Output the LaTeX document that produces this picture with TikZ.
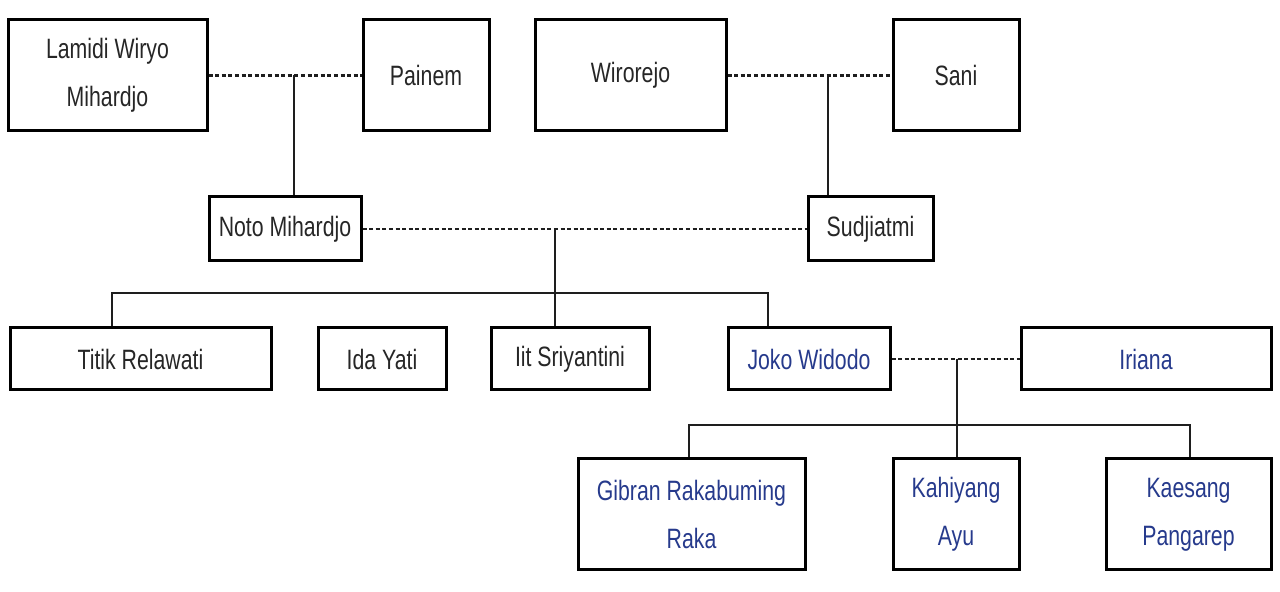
\documentclass[tikz,border=0pt]{standalone}
\usepackage{fontspec}
\setmainfont{Liberation Sans}[FakeStretch=0.76]
\usepackage{tikz}
\definecolor{namablue}{RGB}{38,58,140}
\definecolor{linegray}{RGB}{30,30,30}

\tikzset{
  box/.style 2 args={draw=black,line width=1.5pt,minimum width=#1*0.5pt,minimum height=#2*0.5pt,
    inner sep=0pt,align=center,font=\fontsize{14}{24}\selectfont,text=black!85},
  bluebox/.style 2 args={box={#1}{#2},text=namablue},
  marriage/.style={draw=linegray,line width=1.3pt,dash pattern=on 2pt off 1.3pt},
  line/.style={draw=linegray,line width=1pt}
}

\begin{document}
\begin{tikzpicture}[x=0.5pt,y=-0.5pt]
\useasboundingbox (0,0) rectangle (1280,592);

% generasi kakek nenek
\node[box={199}{111}] (lamidi) at (107.5,75.5) {Lamidi Wiryo\\Mihardjo};
\node[box={126}{111}] (painem) at (426,75.5) {Painem};
\node[box={191}{111}] (wirorejo) at (630.5,75.5) {Wirorejo};
\node[box={126}{111}] (sani) at (956,75.5) {Sani};

% orang tua
\node[box={152}{64}] (noto) at (285,229) {Noto Mihardjo};
\node[box={125}{64}] (sudjiatmi) at (870.5,229) {Sudjiatmi};

% anak
\node[box={261}{62}] (titik) at (140.5,359) {Titik Relawati};
\node[box={128}{62}] (ida) at (382,359) {Ida Yati};
\node[box={158}{62}] (iit) at (570,359) {Iit Sriyantini};
\node[bluebox={162}{62}] (joko) at (809,359) {Joko Widodo};
\node[bluebox={250}{62}] (iriana) at (1146,359) {Iriana};

% cucu
\node[bluebox={227}{111}] (gibran) at (691.5,514.5) {Gibran Rakabuming\\Raka};
\node[bluebox={126}{111}] (kahiyang) at (956,514.5) {Kahiyang\\Ayu};
\node[bluebox={165}{111}] (kaesang) at (1188.5,514.5) {Kaesang\\Pangarep};

% pernikahan
\draw[marriage] (lamidi.east) -- (painem.west);
\draw[marriage] (wirorejo.east) -- (sani.west);
\draw[marriage] (noto.east) -- (sudjiatmi.west);
\draw[marriage] (joko.east) -- (iriana.west);

% keturunan
\coordinate (m1) at (294,75.5);
\coordinate (m2) at (828,75.5);
\coordinate (m3) at (555,229);
\coordinate (m4) at (957,359);
\coordinate (r1) at (555,293);
\coordinate (r2) at (957,425);
\draw[line] (m1) -- (m1 |- noto.north);
\draw[line] (m2) -- (m2 |- sudjiatmi.north);
\draw[line] (m3) -- (r1);
\draw[line] (m4) -- (r2);
\draw[line] (titik.north -| 112,0) |- (r1) -| (joko.north -| 768,0);
\draw[line] (ida.north -| 383,0) -- (ida.north -| 383,0 |- r1);
\draw[line] (r1) -- (iit.north -| r1);
\draw[line] (gibran.north -| 689,0) |- (r2) -| (kaesang.north -| 1190,0);
\draw[line] (r2) -- (kahiyang.north -| r2);
\end{tikzpicture}
\end{document}
